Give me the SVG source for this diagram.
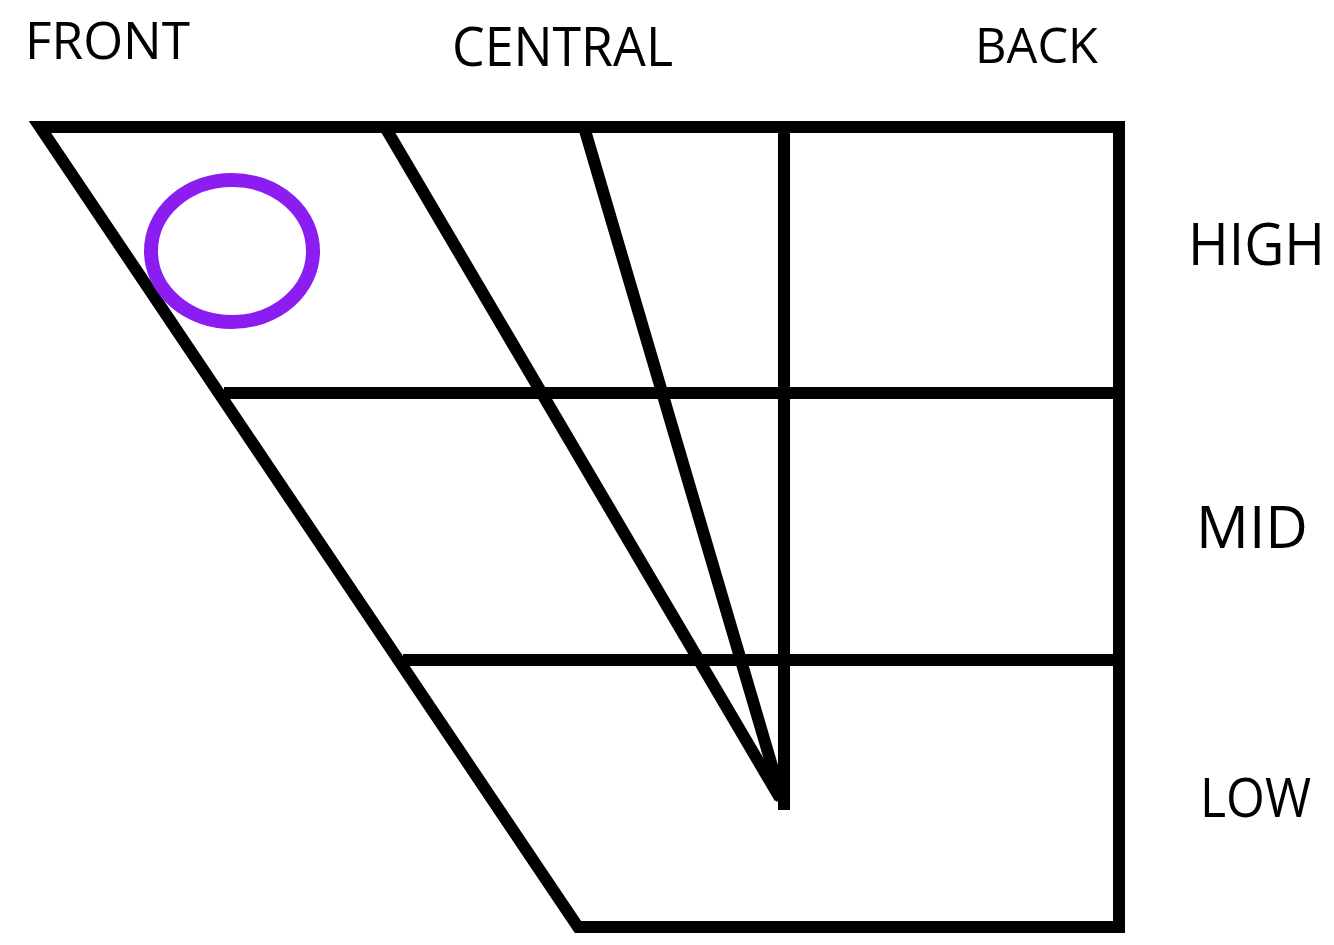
<svg xmlns="http://www.w3.org/2000/svg" width="1334" height="945" viewBox="0 0 1334 945">
<style>
.ln{stroke:#000;stroke-width:12;fill:none;stroke-linecap:butt;stroke-linejoin:miter}
.lbl{font-family:"Open Sans","Liberation Sans",sans-serif;fill:#000}
</style>
<rect width="1334" height="945" fill="#fff"/>
<g id="connectors">
<path class="ln" d="M40,127 H1119 V927 H578 Z"/>
<line class="ln" x1="224" y1="393" x2="1119" y2="393"/>
<line class="ln" x1="403" y1="660" x2="1119" y2="660"/>
<line class="ln" x1="385" y1="127" x2="780" y2="798"/>
<line class="ln" x1="584" y1="127" x2="782" y2="800"/>
<line class="ln" x1="784" y1="127" x2="784" y2="810"/>
</g>
<g id="marker-circle">
<ellipse cx="232" cy="251" rx="81" ry="71" fill="none" stroke="#8B1DF0" stroke-width="14"/>
</g>
<g id="label-front"><text class="lbl" x="25" y="59" font-size="52" textLength="165" lengthAdjust="spacingAndGlyphs">FRONT</text></g>
<g id="label-central"><text class="lbl" x="452" y="66" font-size="54" textLength="221" lengthAdjust="spacingAndGlyphs">CENTRAL</text></g>
<g id="label-back"><text class="lbl" x="975" y="63" font-size="50" textLength="123" lengthAdjust="spacingAndGlyphs">BACK</text></g>
<g id="label-high"><text class="lbl" x="1188" y="265" font-size="58" textLength="137" lengthAdjust="spacingAndGlyphs">HIGH</text></g>
<g id="label-mid"><text class="lbl" x="1196" y="548" font-size="58" textLength="112" lengthAdjust="spacingAndGlyphs">MID</text></g>
<g id="label-low"><text class="lbl" x="1200" y="817" font-size="54" textLength="111" lengthAdjust="spacingAndGlyphs">LOW</text></g>
</svg>
